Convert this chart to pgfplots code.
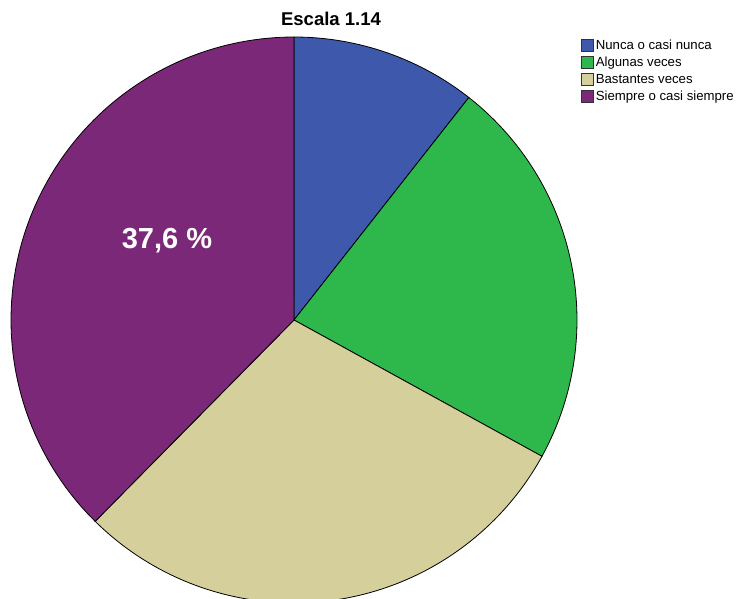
\documentclass[border=0pt]{standalone}
\usepackage{pgfplots}
\pgfplotsset{compat=1.18}
\usepackage{fontspec}
\setmainfont{Liberation Sans}
\definecolor{cNunca}{HTML}{3E58AC}
\definecolor{cAlg}{HTML}{2EB84B}
\definecolor{cBast}{HTML}{D4CF9B}
\definecolor{cSiem}{HTML}{7B2878}
% shares 10.6, 22.4, 29.4, 37.6 % -> cumulative angles from 90 deg clockwise
\def\cx{294}\def\cy{278}\def\R{283}
\begin{document}
\begin{tikzpicture}
\begin{axis}[
  scale only axis, width=737pt, height=598pt,
  xmin=0, xmax=737, ymin=0, ymax=598,
  hide axis, clip=true,
  legend style={at={(axis cs:581,560)}, anchor=north west, draw=none, fill=none,
    font=\fontsize{13.2}{15}\selectfont, inner sep=0pt, row sep=1.9pt,
    cells={anchor=west}},
  legend image code/.code={\draw[#1, draw=black!80, line width=0.6pt] (0pt,-6pt) rectangle (12pt,6pt);},
  legend cell align=left,
]
\addplot[fill=cNunca, draw=black, line width=0.8pt, domain=90:51.84, samples=40, variable=\t]
  ({\cx+\R*cos(\t)},{\cy+\R*sin(\t)}) -- (axis cs:294,278) -- cycle;
\addlegendentry{Nunca o casi nunca}
\addplot[fill=cAlg, draw=black, line width=0.8pt, domain=51.84:-28.8, samples=60, variable=\t]
  ({\cx+\R*cos(\t)},{\cy+\R*sin(\t)}) -- (axis cs:294,278) -- cycle;
\addlegendentry{Algunas veces}
\addplot[fill=cBast, draw=black, line width=0.8pt, domain=-28.8:-134.64, samples=80, variable=\t]
  ({\cx+\R*cos(\t)},{\cy+\R*sin(\t)}) -- (axis cs:294,278) -- cycle;
\addlegendentry{Bastantes veces}
\addplot[fill=cSiem, draw=black, line width=0.8pt, domain=-134.64:-270, samples=100, variable=\t]
  ({\cx+\R*cos(\t)},{\cy+\R*sin(\t)}) -- (axis cs:294,278) -- cycle;
\addlegendentry{Siempre o casi siempre}
\node[font=\bfseries\fontsize{29}{32}\selectfont, text=white] at (axis cs:167,357) {37,6 \%};
\node[font=\bfseries\fontsize{18.5}{20}\selectfont] at (axis cs:331,579) {Escala 1.14};
\end{axis}
\pgfresetboundingbox
\path[use as bounding box] (current axis.south west) rectangle (current axis.north east);
\end{tikzpicture}
\end{document}
